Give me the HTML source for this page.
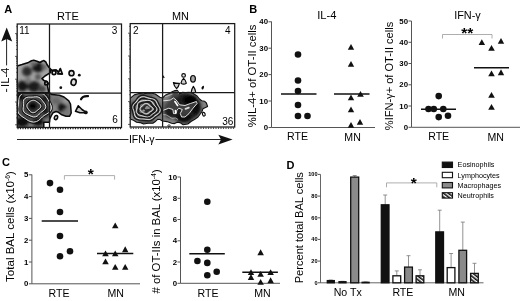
<!DOCTYPE html>
<html><head><meta charset="utf-8"><title>Figure</title>
<style>
html,body{margin:0;padding:0;background:#fff;}
body{width:520px;height:301px;overflow:hidden;font-family:"Liberation Sans",sans-serif;}
svg{display:block;}
text{font-family:"Liberation Sans",sans-serif;fill:#000;}
.ax{stroke:#555;stroke-width:1;fill:none;}
.tk{font-size:7.8px;font-weight:bold;}
.mean{stroke:#111;stroke-width:1.4;}
.br{stroke:#999;stroke-width:0.8;fill:none;}
</style></head><body>
<svg width="520" height="301" viewBox="0 0 520 301" style="opacity:0.999">
<defs>
<filter id="b1" x="-30%" y="-30%" width="160%" height="160%"><feGaussianBlur stdDeviation="1.6"/></filter>
<filter id="b3" x="-30%" y="-30%" width="160%" height="160%"><feGaussianBlur stdDeviation="0.3"/></filter>
<filter id="b2" x="-30%" y="-30%" width="160%" height="160%"><feGaussianBlur stdDeviation="0.5"/></filter>
<pattern id="hatch" width="3" height="3" patternUnits="userSpaceOnUse" patternTransform="rotate(-52)"><rect width="3" height="3" fill="#fff"/><rect width="1.6" height="3" fill="#111"/></pattern>
</defs>
<rect width="520" height="301" fill="#fff"/>

<text x="4.3" y="12.6" font-size="11" text-anchor="start" font-weight="bold">A</text>
<text x="249.3" y="13" font-size="11" text-anchor="start" font-weight="bold">B</text>
<text x="2" y="165.5" font-size="11" text-anchor="start" font-weight="bold">C</text>
<text x="286.5" y="168.5" font-size="11" text-anchor="start" font-weight="bold">D</text>
<g id="PA">
<text x="67.9" y="19.5" font-size="11" text-anchor="middle">RTE</text>
<text x="180.4" y="19.5" font-size="10.9" text-anchor="middle">MN</text>
<clipPath id="cR"><rect x="17.2" y="24" width="104.3" height="103.5"/></clipPath>
<clipPath id="cM"><rect x="130.2" y="23.6" width="104.5" height="103.4"/></clipPath>
<g clip-path="url(#cR)">
<clipPath id="cUL"><path d="M17.2,66 L22,64.6 L28.5,62.4 L31.5,60.8 L33.8,60.3 L37,61.2 L39.9,62.5 L42,61.2 L43.9,60.6 L45.8,62 L47.3,65.1 L49.3,67.8 L51,69.5 L50.5,72.5 L48.8,73.6 L45,76 L42,78.6 L44,80.6 L46.8,81.4 L48.3,83.5 L47.5,86 L48.3,90 L48.8,93 L17.2,93 Z"/></clipPath>
<clipPath id="cLL"><path d="M17.2,93 L49.5,93 L52,94.6 L59.4,95.2 L64,97 L68.8,100.8 L70.5,104 L70.9,108.8 L71.2,113 L69.5,116.3 L66,116.2 L61.8,114.8 L58.5,112.3 L56,111.5 L53,112.8 L51.3,115.6 L49.8,119 L49.5,122.2 L43.8,122.2 L43.8,127.5 L17.2,127.5 Z"/></clipPath>
<path d="M17.2,66 L22,64.6 L28.5,62.4 L31.5,60.8 L33.8,60.3 L37,61.2 L39.9,62.5 L42,61.2 L43.9,60.6 L45.8,62 L47.3,65.1 L49.3,67.8 L51,69.5 L50.5,72.5 L48.8,73.6 L45,76 L42,78.6 L44,80.6 L46.8,81.4 L48.3,83.5 L47.5,86 L48.3,90 L48.8,93 L17.2,93 Z" fill="#a4a4a4"/>
<g clip-path="url(#cUL)" filter="url(#b1)">
<ellipse cx="38" cy="67.5" rx="6" ry="5" fill="#161616"/>
<ellipse cx="27" cy="71.5" rx="5" ry="5" fill="#2a2a2a"/>
<ellipse cx="22.5" cy="86" rx="5.5" ry="5.5" fill="#141414"/>
<ellipse cx="34" cy="86.5" rx="6.5" ry="5.5" fill="#1c1c1c"/>
<ellipse cx="42" cy="89" rx="4" ry="3.5" fill="#444"/>
<ellipse cx="33" cy="63.5" rx="3.5" ry="2" fill="#666"/>
<ellipse cx="44.5" cy="67" rx="2.5" ry="3" fill="#666"/>
<ellipse cx="38" cy="77" rx="3" ry="3" fill="#555"/>
<ellipse cx="28" cy="80" rx="3" ry="3" fill="#777"/>
</g>
<path d="M17.2,66 L22,64.6 L28.5,62.4 L31.5,60.8 L33.8,60.3 L37,61.2 L39.9,62.5 L42,61.2 L43.9,60.6 L45.8,62 L47.3,65.1 L49.3,67.8 L51,69.5 L50.5,72.5 L48.8,73.6 L45,76 L42,78.6 L44,80.6 L46.8,81.4 L48.3,83.5 L47.5,86 L48.3,90 L48.8,93 L17.2,93 Z" fill="none" stroke="#0a0a0a" stroke-width="1.6" stroke-linejoin="round"/>
<path d="M17.2,93 L49.5,93 L52,94.6 L59.4,95.2 L64,97 L68.8,100.8 L70.5,104 L70.9,108.8 L71.2,113 L69.5,116.3 L66,116.2 L61.8,114.8 L58.5,112.3 L56,111.5 L53,112.8 L51.3,115.6 L49.8,119 L49.5,122.2 L43.8,122.2 L43.8,127.5 L17.2,127.5 Z" fill="#7c7c7c"/>
<g clip-path="url(#cLL)" filter="url(#b1)">
<ellipse cx="33" cy="108" rx="17" ry="15" fill="#4c4c4c"/>
<ellipse cx="33" cy="106" rx="9" ry="8" fill="#3a3a3a"/>
<ellipse cx="32.8" cy="106" rx="4.4" ry="3.8" fill="#000"/>
<ellipse cx="32.8" cy="106" rx="3" ry="2.6" fill="#000"/>
<ellipse cx="22" cy="122" rx="7" ry="5" fill="#0c0c0c"/>
<ellipse cx="38" cy="122" rx="6" ry="4" fill="#111"/>
<ellipse cx="20" cy="97" rx="5" ry="4" fill="#111"/>
<ellipse cx="46" cy="98" rx="4" ry="5" fill="#1a1a1a"/>
<ellipse cx="46" cy="112" rx="3" ry="6" fill="#1a1a1a"/>
<ellipse cx="62" cy="107.5" rx="4.5" ry="4.5" fill="#161616"/>
<ellipse cx="56" cy="101" rx="4" ry="3" fill="#666"/>
<ellipse cx="66" cy="112" rx="3" ry="3" fill="#777"/>
<ellipse cx="66" cy="101" rx="3" ry="3" fill="#999"/>
<ellipse cx="54" cy="108" rx="3" ry="3" fill="#888"/>
</g>
<g clip-path="url(#cLL)" fill="none" filter="url(#b3)">
<path d="M52.2,106.3 L52.2,108.9 L51.2,111.4 L49.2,113.3 L46.9,114.8 L44.7,116.1 L42.8,117.6 L41.1,119.3 L39.1,121.2 L36.5,122.6 L33.6,123.1 L30.7,122.6 L28.0,121.4 L25.7,120.0 L23.6,118.5 L21.4,117.1 L19.3,115.5 L17.7,113.5 L16.8,111.1 L16.8,108.7 L17.2,106.3 L17.7,104.1 L17.9,101.8 L18.0,99.3 L18.5,96.6 L19.9,94.2 L22.3,92.5 L25.2,91.7 L28.2,91.7 L31.0,92.0 L33.6,92.1 L36.2,92.0 L38.9,92.0 L41.6,92.3 L44.2,93.4 L46.2,95.2 L47.6,97.3 L48.9,99.4 L50.1,101.5 L51.3,103.8Z" stroke="#0c0c0c" stroke-width="1.1"/>
<path d="M51.3,106.3 L51.3,108.8 L50.3,111.1 L48.4,112.9 L46.2,114.3 L44.1,115.5 L42.4,116.9 L40.7,118.6 L38.8,120.3 L36.4,121.6 L33.6,122.1 L30.8,121.7 L28.3,120.6 L26.1,119.2 L24.1,117.8 L22.0,116.5 L20.1,114.9 L18.5,113.1 L17.7,110.8 L17.6,108.5 L18.1,106.3 L18.5,104.2 L18.7,102.0 L18.8,99.7 L19.3,97.2 L20.6,94.9 L22.8,93.3 L25.6,92.5 L28.5,92.5 L31.2,92.8 L33.6,92.9 L36.0,92.8 L38.6,92.8 L41.2,93.1 L43.6,94.2 L45.5,95.8 L46.9,97.8 L48.1,99.8 L49.3,101.8 L50.4,104.0Z" stroke="#fafafa" stroke-width="0.9"/>
<path d="M46.8,106.3 L46.5,108.1 L45.5,109.8 L44.1,111.1 L42.5,112.1 L41.2,113.2 L40.1,114.4 L38.9,115.7 L37.5,117.0 L35.6,117.8 L33.6,117.9 L31.6,117.5 L29.8,116.7 L28.2,115.9 L26.5,115.0 L24.9,114.1 L23.5,112.9 L22.6,111.4 L22.2,109.6 L22.3,107.9 L22.6,106.3 L22.6,104.7 L22.5,103.1 L22.5,101.2 L23.0,99.3 L24.1,97.8 L25.9,96.7 L28.0,96.3 L30.0,96.3 L31.8,96.3 L33.6,96.1 L35.4,95.9 L37.3,96.0 L39.2,96.4 L40.8,97.4 L42.0,98.7 L43.1,100.1 L44.1,101.5 L45.2,102.9 L46.2,104.5Z" stroke="#0c0c0c" stroke-width="1.1"/>
<path d="M45.8,106.3 L45.6,108.0 L44.6,109.5 L43.3,110.7 L41.9,111.7 L40.7,112.6 L39.6,113.7 L38.5,115.0 L37.2,116.1 L35.5,116.8 L33.6,117.0 L31.8,116.5 L30.1,115.8 L28.6,115.1 L27.1,114.3 L25.6,113.5 L24.3,112.4 L23.4,110.9 L23.1,109.4 L23.2,107.8 L23.4,106.3 L23.4,104.9 L23.3,103.3 L23.3,101.6 L23.7,99.9 L24.8,98.5 L26.5,97.5 L28.4,97.1 L30.2,97.1 L32.0,97.1 L33.6,97.0 L35.3,96.8 L37.1,96.8 L38.8,97.3 L40.2,98.1 L41.4,99.3 L42.4,100.6 L43.3,101.9 L44.4,103.2 L45.3,104.6Z" stroke="#fafafa" stroke-width="0.9"/>
<path d="M41.8,106.3 L41.6,107.4 L40.9,108.5 L40.1,109.3 L39.2,110.0 L38.3,110.6 L37.6,111.2 L36.8,112.0 L35.9,112.7 L34.8,113.4 L33.6,113.7 L32.3,113.7 L31.1,113.3 L30.1,112.6 L29.2,111.7 L28.6,110.9 L28.0,110.0 L27.3,109.2 L26.7,108.3 L26.2,107.4 L26.0,106.3 L26.0,105.2 L26.3,104.1 L26.8,103.2 L27.5,102.3 L28.3,101.5 L29.2,100.8 L30.2,100.2 L31.2,99.7 L32.4,99.4 L33.6,99.3 L34.8,99.5 L35.9,100.0 L36.8,100.6 L37.7,101.2 L38.5,101.8 L39.4,102.5 L40.3,103.2 L41.1,104.1 L41.7,105.1Z" stroke="#0c0c0c" stroke-width="1.1"/>
<path d="M40.9,106.3 L40.6,107.3 L40.1,108.2 L39.3,108.9 L38.5,109.5 L37.8,110.0 L37.1,110.6 L36.4,111.2 L35.6,111.9 L34.7,112.4 L33.6,112.7 L32.5,112.7 L31.4,112.3 L30.5,111.7 L29.8,111.0 L29.2,110.3 L28.6,109.5 L28.1,108.8 L27.6,108.1 L27.1,107.2 L26.9,106.3 L26.9,105.3 L27.1,104.4 L27.6,103.6 L28.3,102.8 L29.0,102.2 L29.7,101.6 L30.6,101.0 L31.5,100.6 L32.5,100.3 L33.6,100.2 L34.6,100.4 L35.6,100.8 L36.4,101.3 L37.2,101.9 L38.0,102.4 L38.7,103.0 L39.5,103.6 L40.2,104.4 L40.7,105.3Z" stroke="#fafafa" stroke-width="0.9"/>
</g>
<path d="M17.2,93 L49.5,93 L52,94.6 L59.4,95.2 L64,97 L68.8,100.8 L70.5,104 L70.9,108.8 L71.2,113 L69.5,116.3 L66,116.2 L61.8,114.8 L58.5,112.3 L56,111.5 L53,112.8 L51.3,115.6 L49.8,119 L49.5,122.2 L43.8,122.2 L43.8,127.5 L17.2,127.5 Z" fill="none" stroke="#0a0a0a" stroke-width="1.5" stroke-linejoin="round"/>
<g fill="#fff" stroke="#0a0a0a" stroke-width="1.8">
<ellipse cx="54" cy="72.6" rx="1.9" ry="2.1"/>
<path d="M57.8,73.8 L60.3,68.6 L62.3,74 Z" stroke-linejoin="round"/>
<ellipse cx="46.2" cy="83.2" rx="1.4" ry="1.7"/>
</g>
<path d="M50,69.5 L52.5,70.3 L56,70 L58.5,72" fill="none" stroke="#0a0a0a" stroke-width="1.8"/>
<g fill="#ddd" stroke="#0a0a0a" stroke-width="1.6">
<ellipse cx="71.5" cy="73.2" rx="2.5" ry="2.6"/>
<ellipse cx="73.6" cy="82.2" rx="2.5" ry="3.2" transform="rotate(15 73.6 82.2)"/>
<ellipse cx="56" cy="117.6" rx="1.5" ry="2.1" transform="rotate(20 56 117.6)" fill="#fff"/>
<path d="M75.5,111.3 L78.2,105.8 L82,109.5 L86.5,112.6 L80,112.8 Z" fill="#c8c8c8" stroke-linejoin="round"/>
</g>
<g fill="#111">
<circle cx="79.3" cy="75.2" r="1.4"/><circle cx="60.8" cy="87.7" r="1.4"/><circle cx="85.8" cy="112.4" r="1.9"/>
</g>
<path d="M81,99.3 C82,97 85,96 88,96.2" fill="none" stroke="#0a0a0a" stroke-width="2.2" stroke-linecap="round"/>
</g>
<g clip-path="url(#cM)">
<clipPath id="cML"><path d="M130.2,98.4 L134.3,94.9 L139,93.5 L143.5,93.9 L148.3,93 L152,93.2 L155.2,94 L159.9,97.2 L162.5,98 L165.7,94.9 L169,93.5 L172.7,91.4 L175,90.6 L177.3,90.2 L179.7,93.7 L182.5,92.3 L185.5,92.6 L189,92.2 L192.4,93 L197.1,96 L199.5,99 L201.7,100.7 L204.5,101.2 L206.4,103 L207.6,106.5 L205.5,107.5 L202.9,108.8 L202,111.5 L200.6,113.5 L198,117 L194.8,119.3 L191,121.5 L187.8,124 L183.1,124.7 L180,122.6 L177.3,122.3 L174.5,123.6 L171.5,123.3 L166.9,121.6 L162.5,121 L160,119.5 L157.6,119.3 L155,121.8 L152.9,123.3 L148,123.2 L143.6,124 L140,122.6 L136.6,122.3 L133.5,120.3 L130.8,119.3 L130.2,118 Z"/></clipPath>
<path d="M130.2,98.4 L134.3,94.9 L139,93.5 L143.5,93.9 L148.3,93 L152,93.2 L155.2,94 L159.9,97.2 L162.5,98 L165.7,94.9 L169,93.5 L172.7,91.4 L175,90.6 L177.3,90.2 L179.7,93.7 L182.5,92.3 L185.5,92.6 L189,92.2 L192.4,93 L197.1,96 L199.5,99 L201.7,100.7 L204.5,101.2 L206.4,103 L207.6,106.5 L205.5,107.5 L202.9,108.8 L202,111.5 L200.6,113.5 L198,117 L194.8,119.3 L191,121.5 L187.8,124 L183.1,124.7 L180,122.6 L177.3,122.3 L174.5,123.6 L171.5,123.3 L166.9,121.6 L162.5,121 L160,119.5 L157.6,119.3 L155,121.8 L152.9,123.3 L148,123.2 L143.6,124 L140,122.6 L136.6,122.3 L133.5,120.3 L130.8,119.3 L130.2,118 Z" fill="#808080"/>
<g clip-path="url(#cML)" filter="url(#b1)">
<ellipse cx="184" cy="107" rx="17" ry="14" fill="#1e1e1e"/>
<ellipse cx="190" cy="100" rx="7" ry="5" fill="#000"/>
<ellipse cx="184" cy="118" rx="8" ry="5" fill="#0a0a0a"/>
<ellipse cx="170" cy="110" rx="6" ry="8" fill="#1a1a1a"/>
<ellipse cx="196" cy="108" rx="5" ry="7" fill="#111"/>
<ellipse cx="175" cy="95" rx="4" ry="3" fill="#444"/>
<ellipse cx="146" cy="108.5" rx="15" ry="13" fill="#7a7a7a"/>
<ellipse cx="133" cy="108" rx="3" ry="7" fill="#444"/>
<ellipse cx="158" cy="108" rx="4" ry="6" fill="#555"/>
<ellipse cx="146" cy="96" rx="8" ry="2.5" fill="#555"/>
<ellipse cx="146" cy="121.5" rx="9" ry="2.5" fill="#4a4a4a"/>
</g>
<g clip-path="url(#cML)" fill="none" filter="url(#b3)">
<path d="M161.3,108.5 L161.7,110.6 L161.0,112.7 L159.4,114.4 L157.5,115.7 L155.7,116.9 L154.2,118.3 L152.6,119.6 L150.6,120.6 L148.3,120.9 L146.0,120.6 L143.8,120.3 L141.6,120.2 L139.2,120.1 L136.7,119.5 L134.8,118.2 L133.6,116.3 L133.2,114.1 L132.8,112.2 L132.3,110.4 L131.7,108.5 L131.5,106.5 L132.1,104.6 L133.3,102.9 L134.8,101.5 L136.1,99.9 L137.3,98.2 L138.9,96.5 L141.1,95.4 L143.6,95.3 L146.0,95.8 L148.2,96.6 L150.3,97.2 L152.4,97.6 L154.6,98.3 L156.4,99.5 L157.6,101.2 L158.4,103.0 L159.2,104.8 L160.3,106.5Z" stroke="#1a1a1a" stroke-width="1.3"/>
<path d="M159.8,108.5 L160.2,110.4 L159.5,112.2 L158.1,113.7 L156.4,114.9 L154.8,116.0 L153.4,117.2 L151.9,118.4 L150.1,119.3 L148.1,119.5 L146.0,119.3 L144.0,119.0 L142.0,118.9 L139.8,118.8 L137.6,118.3 L135.9,117.1 L134.8,115.4 L134.4,113.5 L134.1,111.8 L133.6,110.2 L133.0,108.5 L132.9,106.7 L133.4,105.0 L134.5,103.5 L135.9,102.2 L137.0,100.9 L138.2,99.4 L139.6,97.9 L141.6,96.9 L143.8,96.7 L146.0,97.2 L148.0,97.9 L149.9,98.4 L151.8,98.8 L153.8,99.4 L155.4,100.5 L156.5,102.0 L157.2,103.6 L158.0,105.2 L158.9,106.8Z" stroke="#e6e6e6" stroke-width="0.9"/>
<path d="M158.3,108.5 L158.6,110.2 L157.9,111.7 L156.5,113.0 L155.0,114.0 L153.7,114.9 L152.6,116.1 L151.3,117.2 L149.7,117.9 L147.8,118.0 L146.0,117.7 L144.3,117.5 L142.5,117.5 L140.5,117.5 L138.5,117.1 L137.0,116.0 L136.3,114.4 L135.9,112.8 L135.6,111.3 L135.1,109.9 L134.5,108.5 L134.3,107.0 L134.9,105.5 L136.1,104.3 L137.2,103.2 L138.2,101.9 L139.1,100.5 L140.3,99.2 L142.1,98.4 L144.1,98.3 L146.0,98.9 L147.7,99.5 L149.4,99.8 L151.2,100.0 L152.9,100.5 L154.3,101.5 L155.2,102.9 L155.7,104.4 L156.4,105.7 L157.4,107.0Z" stroke="#161616" stroke-width="1.5"/>
<path d="M156.8,108.5 L156.9,109.9 L156.2,111.2 L155.1,112.3 L153.8,113.1 L152.6,113.9 L151.5,114.7 L150.4,115.6 L149.1,116.4 L147.6,116.8 L146.0,116.8 L144.5,116.5 L143.0,116.0 L141.6,115.6 L140.1,115.1 L138.6,114.6 L137.3,113.7 L136.4,112.5 L136.2,111.1 L136.4,109.7 L136.8,108.5 L137.1,107.3 L137.2,106.2 L137.3,104.9 L137.6,103.5 L138.4,102.3 L139.8,101.5 L141.3,101.0 L142.9,100.8 L144.5,100.6 L146.0,100.4 L147.6,100.3 L149.2,100.4 L150.7,101.0 L151.9,101.9 L152.7,103.0 L153.5,104.1 L154.2,105.1 L155.2,106.1 L156.1,107.2Z" stroke="#f0f0f0" stroke-width="0.9"/>
<path d="M155.1,108.7 L155.0,109.8 L154.3,110.9 L153.3,111.7 L152.3,112.3 L151.4,113.0 L150.6,113.7 L149.8,114.6 L148.8,115.2 L147.5,115.5 L146.2,115.3 L145.0,115.0 L143.9,114.6 L142.7,114.3 L141.5,114.1 L140.1,113.7 L139.0,113.0 L138.4,112.0 L138.4,110.8 L138.7,109.7 L139.1,108.7 L139.2,107.8 L139.1,106.8 L139.0,105.7 L139.3,104.6 L140.1,103.7 L141.2,103.1 L142.6,102.8 L143.8,102.6 L145.0,102.4 L146.2,102.1 L147.5,101.9 L148.8,102.0 L150.0,102.6 L150.9,103.4 L151.5,104.4 L152.0,105.2 L152.7,106.0 L153.6,106.7 L154.5,107.6Z" stroke="#1a1a1a" stroke-width="2.0"/>
<path d="M153.1,108.8 L153.0,109.6 L152.4,110.4 L151.7,111.0 L150.8,111.4 L150.1,111.8 L149.4,112.3 L148.8,112.8 L148.1,113.3 L147.3,113.7 L146.3,114.0 L145.3,113.9 L144.3,113.6 L143.6,113.1 L142.9,112.5 L142.3,112.0 L141.7,111.5 L141.1,110.9 L140.5,110.3 L140.0,109.6 L139.9,108.8 L140.1,108.0 L140.6,107.3 L141.2,106.7 L141.9,106.2 L142.4,105.7 L143.0,105.1 L143.6,104.5 L144.3,103.9 L145.3,103.5 L146.3,103.4 L147.3,103.6 L148.2,104.1 L148.9,104.8 L149.4,105.4 L150.0,105.9 L150.6,106.3 L151.4,106.7 L152.2,107.3 L152.8,108.0Z" stroke="#ececec" stroke-width="0.9"/>
</g>
<g clip-path="url(#cML)" filter="url(#b2)">
<path d="M151.8,108.8 L151.7,109.5 L151.2,110.0 L150.6,110.5 L149.9,110.8 L149.3,111.1 L148.8,111.4 L148.3,111.8 L147.8,112.3 L147.1,112.7 L146.3,112.9 L145.5,112.8 L144.7,112.5 L144.1,112.1 L143.6,111.6 L143.2,111.2 L142.7,110.8 L142.1,110.4 L141.6,110.0 L141.2,109.4 L141.1,108.8 L141.3,108.2 L141.7,107.6 L142.3,107.2 L142.8,106.8 L143.3,106.5 L143.7,106.0 L144.1,105.5 L144.7,105.0 L145.5,104.7 L146.3,104.6 L147.1,104.8 L147.8,105.2 L148.4,105.7 L148.8,106.2 L149.2,106.6 L149.7,106.9 L150.3,107.2 L151.0,107.6 L151.6,108.2Z" fill="#2a2a2a"/>
<path d="M150.0,107.8 L150.1,108.1 L150.0,108.4 L149.8,108.6 L149.5,108.8 L149.1,109.0 L148.6,109.0 L148.2,109.0 L147.9,109.1 L147.6,109.1 L147.3,109.2 L147.0,109.2 L146.6,109.3 L146.1,109.3 L145.7,109.3 L145.3,109.1 L145.0,108.9 L144.9,108.6 L144.9,108.3 L145.0,108.0 L145.2,107.8 L145.3,107.6 L145.4,107.4 L145.5,107.2 L145.6,107.0 L145.7,106.7 L145.8,106.4 L146.1,106.2 L146.4,106.0 L146.9,105.9 L147.3,106.0 L147.7,106.1 L148.0,106.3 L148.3,106.5 L148.5,106.7 L148.7,106.9 L148.9,107.0 L149.2,107.2 L149.4,107.3 L149.7,107.5Z" fill="#8a8a8a"/>
<path d="M145.0,110.6 L145.0,110.8 L145.0,111.0 L144.9,111.2 L144.7,111.3 L144.5,111.4 L144.3,111.5 L144.1,111.5 L143.9,111.5 L143.8,111.5 L143.6,111.6 L143.4,111.6 L143.2,111.6 L143.0,111.6 L142.8,111.6 L142.6,111.5 L142.4,111.3 L142.3,111.1 L142.3,111.0 L142.3,110.8 L142.4,110.6 L142.5,110.4 L142.5,110.3 L142.6,110.2 L142.6,110.0 L142.7,109.8 L142.8,109.7 L143.0,109.5 L143.1,109.4 L143.4,109.4 L143.6,109.4 L143.8,109.4 L144.0,109.6 L144.2,109.7 L144.3,109.8 L144.4,109.9 L144.5,110.0 L144.6,110.1 L144.8,110.3 L144.9,110.4Z" fill="#999"/>
</g>
<g clip-path="url(#cML)" fill="none" stroke="#f2f2f2" stroke-width="0.9" stroke-linejoin="round" filter="url(#b3)">
<path d="M162.5,100.8 L166,100.6 L170.2,100 L173.5,98 L176.2,100 L179.6,104.8 L185,105.5 L190.4,103.5 L196.4,101.5 L197.1,103.5 L193,108.2 L189,113.6 L185,117 L181.6,117 L180.3,113.6 L182.3,109.5 L178.9,108.2 L176.9,110.2 L176.2,113.6 L173.5,113.6 L172.9,109.5 L168.8,108.2 L163.5,110.2 L162.5,110.4" fill="#5c5c5c" fill-opacity="0.55"/>
<path d="M162.5,96.8 L166,96.5 L169.5,95.2 L172.5,94 M162.5,114.5 L166,114.8 L169,116.5 L172,118.3 L175.5,118 L178,119.5" stroke="#cfcfcf" stroke-width="0.7"/>
<path d="M174.9,101.5 L177.6,105.5" stroke="#fff" stroke-width="1.6" stroke-linecap="round"/>
<path d="M175.4,110.4 L175.6,112.9" stroke="#fff" stroke-width="1.5" stroke-linecap="round"/>
<path d="M185.5,108.8 L188.8,107.6" stroke="#d8d8d8" stroke-width="1.8" stroke-linecap="round"/>
<path d="M178,91.5 L178.6,93.5" stroke="#fff" stroke-width="1.0"/>
</g>
<path d="M130.2,98.4 L134.3,94.9 L139,93.5 L143.5,93.9 L148.3,93 L152,93.2 L155.2,94 L159.9,97.2 L162.5,98 L165.7,94.9 L169,93.5 L172.7,91.4 L175,90.6 L177.3,90.2 L179.7,93.7 L182.5,92.3 L185.5,92.6 L189,92.2 L192.4,93 L197.1,96 L199.5,99 L201.7,100.7 L204.5,101.2 L206.4,103 L207.6,106.5 L205.5,107.5 L202.9,108.8 L202,111.5 L200.6,113.5 L198,117 L194.8,119.3 L191,121.5 L187.8,124 L183.1,124.7 L180,122.6 L177.3,122.3 L174.5,123.6 L171.5,123.3 L166.9,121.6 L162.5,121 L160,119.5 L157.6,119.3 L155,121.8 L152.9,123.3 L148,123.2 L143.6,124 L140,122.6 L136.6,122.3 L133.5,120.3 L130.8,119.3 L130.2,118 Z" fill="none" stroke="#111" stroke-width="1.1" stroke-linejoin="round"/>
<g fill="#d8d8d8" stroke="#0a0a0a" stroke-width="1.2">
<circle cx="183.6" cy="75.4" r="1.8" fill="#eee"/>
<path d="M181,83.2 Q181.6,80 183.6,78.4 Q185.6,80 186.3,83.2 Q183.6,85.2 181,83.2Z" stroke-linejoin="round" fill="#ccc"/>
<path d="M173.4,82.6 Q176,83.6 179.4,83.4 Q178.8,86.5 176.6,88.6 Q174,86 173.4,82.6 Z" stroke-linejoin="round" fill="#ccc"/>
<ellipse cx="193" cy="78.8" rx="2.4" ry="3.3" fill="#a8a8a8"/>
<path d="M191.2,92.3 Q191.6,89 193.4,86.4 Q195.3,89 195.7,92.3" fill="#ccc" stroke-linejoin="round"/>
<ellipse cx="203.8" cy="114.2" rx="1.3" ry="1.9" transform="rotate(-20 203.8 114.2)" fill="#fff"/>
<ellipse cx="169" cy="125.8" rx="1.2" ry="1" fill="#fff" stroke-width="0.8"/>
</g>
<ellipse cx="202.8" cy="87.6" rx="1.1" ry="2" transform="rotate(20 202.8 87.6)" fill="#0a0a0a"/>
<path d="M162.6,75.5 L164.2,77.8" stroke="#111" stroke-width="1.3"/>
</g>
<g fill="none" stroke="#1a1a1a" stroke-width="1.25">
<rect x="17.2" y="24" width="104.3" height="103.5"/>
<path d="M49.5,24 V127.5 M17.2,93 H121.5"/>
<rect x="130.2" y="23.6" width="104.5" height="103.4"/>
<path d="M162.6,23.6 V127 M130.2,92.5 H234.7"/>
</g>
<g stroke="#222" stroke-width="1.2" fill="none">
<path d="M17.4,128.6 H121.3" stroke-dasharray="1.2 1.3"/>
<path d="M130.4,128.1 H234.5" stroke-dasharray="1.2 1.3"/>
<path d="M15.0,33.6 H17.2 M16.1,26.7 H17.2 M15.0,56.4 H17.2 M16.1,49.5 H17.2 M16.1,45.5 H17.2 M16.1,42.7 H17.2 M16.1,40.5 H17.2 M16.1,38.7 H17.2 M16.1,37.1 H17.2 M16.1,35.8 H17.2 M16.1,34.6 H17.2 M15.0,79.2 H17.2 M16.1,72.3 H17.2 M16.1,68.3 H17.2 M16.1,65.5 H17.2 M16.1,63.3 H17.2 M16.1,61.5 H17.2 M16.1,59.9 H17.2 M16.1,58.6 H17.2 M16.1,57.4 H17.2 M15.0,102.0 H17.2 M16.1,95.1 H17.2 M16.1,91.1 H17.2 M16.1,88.3 H17.2 M16.1,86.1 H17.2 M16.1,84.3 H17.2 M16.1,82.7 H17.2 M16.1,81.4 H17.2 M16.1,80.2 H17.2 M15.0,124.8 H17.2 M16.1,117.9 H17.2 M16.1,113.9 H17.2 M16.1,111.1 H17.2 M16.1,108.9 H17.2 M16.1,107.1 H17.2 M16.1,105.5 H17.2 M16.1,104.2 H17.2 M16.1,103.0 H17.2 " stroke-width="0.7"/>
<path d="M128.0,33.2 H130.2 M129.1,26.3 H130.2 M128.0,56.0 H130.2 M129.1,49.1 H130.2 M129.1,45.1 H130.2 M129.1,42.3 H130.2 M129.1,40.1 H130.2 M129.1,38.3 H130.2 M129.1,36.7 H130.2 M129.1,35.4 H130.2 M129.1,34.2 H130.2 M128.0,78.8 H130.2 M129.1,71.9 H130.2 M129.1,67.9 H130.2 M129.1,65.1 H130.2 M129.1,62.9 H130.2 M129.1,61.1 H130.2 M129.1,59.5 H130.2 M129.1,58.2 H130.2 M129.1,57.0 H130.2 M128.0,101.6 H130.2 M129.1,94.7 H130.2 M129.1,90.7 H130.2 M129.1,87.9 H130.2 M129.1,85.7 H130.2 M129.1,83.9 H130.2 M129.1,82.3 H130.2 M129.1,81.0 H130.2 M129.1,79.8 H130.2 M128.0,124.4 H130.2 M129.1,117.5 H130.2 M129.1,113.5 H130.2 M129.1,110.7 H130.2 M129.1,108.5 H130.2 M129.1,106.7 H130.2 M129.1,105.1 H130.2 M129.1,103.8 H130.2 M129.1,102.6 H130.2 " stroke-width="0.7"/>
</g>
<g font-size="10">
<text x="19.3" y="34">11</text><text x="117.4" y="34" text-anchor="end">3</text><text x="117.7" y="123.2" text-anchor="end">6</text>
<text x="133" y="33.8" >2</text><text x="230.5" y="33.8" text-anchor="end">4</text><text x="233.3" y="124.8" text-anchor="end">36</text>
</g>
<path d="M6.7,27.4 L12.2,41.6 L6.7,38.9 L1.2,41.6 Z" fill="#111"/>
<path d="M6.6,39 V65.4 M6.6,88.8 V92" stroke="#222" stroke-width="1"/>
<text transform="translate(9.4,77.3) rotate(-90)" font-size="11.2" text-anchor="middle">IL-4</text>
<path d="M17,139.5 H128.5 M155.5,139.5 H221" stroke="#222" stroke-width="1"/>
<path d="M232.6,139.6 L218.3,134.7 L221,139.6 L218.3,144.6 Z" fill="#111"/>
<text x="141.8" y="143" font-size="10.5" text-anchor="middle">IFN-γ</text>
</g>
<g id="B1">
<path class="ax" d="M271.5,21.5 V127.5 H375"/><line class="ax" x1="268.5" y1="21.8" x2="271.5" y2="21.8"/><text class="tk" x="268.0" y="24.400000000000002" text-anchor="end">40</text><line class="ax" x1="268.5" y1="48.2" x2="271.5" y2="48.2"/><text class="tk" x="268.0" y="50.800000000000004" text-anchor="end">30</text><line class="ax" x1="268.5" y1="74.6" x2="271.5" y2="74.6"/><text class="tk" x="268.0" y="77.19999999999999" text-anchor="end">20</text><line class="ax" x1="268.5" y1="101" x2="271.5" y2="101"/><text class="tk" x="268.0" y="103.6" text-anchor="end">10</text><line class="ax" x1="268.5" y1="127.5" x2="271.5" y2="127.5"/><text class="tk" x="268.0" y="130.1" text-anchor="end">0</text>
<text x="326.8" y="18.8" font-size="11.2" text-anchor="middle" >IL-4</text>
<text transform="translate(256.2,75.9) rotate(-90)" font-size="11.3" text-anchor="middle" >%IL-4+ of OT-II cells</text>
<g fill="#111">
<circle cx="298" cy="54.5" r="3.3"/>
<circle cx="298" cy="80.5" r="3.3"/>
<circle cx="298" cy="91" r="3.3"/>
<circle cx="298" cy="105" r="3.3"/>
<circle cx="298" cy="116" r="3.3"/>
<circle cx="307.5" cy="116" r="3.3"/>
<path d="M347.8,49.8 L354.2,49.8 L351,43.9Z"/>
<path d="M347.8,66.8 L354.2,66.8 L351,60.9Z"/>
<path d="M357.2,96.8 L363.8,96.8 L360.5,90.9Z"/>
<path d="M347.8,100.3 L354.2,100.3 L351,94.4Z"/>
<path d="M347.8,112.3 L354.2,112.3 L351,106.4Z"/>
<path d="M356.8,124.8 L363.2,124.8 L360,118.9Z"/>
<path d="M347.8,127.8 L354.2,127.8 L351,121.9Z"/>
</g>
<line x1="281" y1="94" x2="316.5" y2="94" class="mean"/>
<line x1="334" y1="94" x2="369.5" y2="94" class="mean"/>
<text x="297.5" y="140.2" font-size="10.6" text-anchor="middle" >RTE</text>
<text x="352.6" y="140.6" font-size="10.6" text-anchor="middle" >MN</text>
</g>
<g id="B2">
<path class="ax" d="M411.5,21 V127.3 H520"/><line class="ax" x1="408.5" y1="21" x2="411.5" y2="21"/><text class="tk" x="408.0" y="23.6" text-anchor="end">50</text><line class="ax" x1="408.5" y1="42.3" x2="411.5" y2="42.3"/><text class="tk" x="408.0" y="44.9" text-anchor="end">40</text><line class="ax" x1="408.5" y1="63.5" x2="411.5" y2="63.5"/><text class="tk" x="408.0" y="66.1" text-anchor="end">30</text><line class="ax" x1="408.5" y1="84.8" x2="411.5" y2="84.8"/><text class="tk" x="408.0" y="87.39999999999999" text-anchor="end">20</text><line class="ax" x1="408.5" y1="106" x2="411.5" y2="106"/><text class="tk" x="408.0" y="108.6" text-anchor="end">10</text><line class="ax" x1="408.5" y1="127.3" x2="411.5" y2="127.3"/><text class="tk" x="408.0" y="129.9" text-anchor="end">0</text>
<text x="467.5" y="18.8" font-size="10.9" text-anchor="middle" >IFN-γ</text>
<text transform="translate(393.2,76) rotate(-90)" font-size="11.06" text-anchor="middle" >%IFN-γ+ of OT-II cells</text>
<g fill="#111">
<circle cx="438.7" cy="96.1" r="3.3"/>
<circle cx="428.5" cy="109" r="3.3"/>
<circle cx="433.8" cy="109" r="3.3"/>
<circle cx="443.3" cy="109" r="3.3"/>
<circle cx="438.7" cy="117.1" r="3.3"/>
<circle cx="448" cy="115.8" r="3.3"/>
<path d="M478.6,45.1 L485.1,45.1 L481.8,39.2Z"/>
<path d="M497.8,43.8 L504.2,43.8 L501,37.9Z"/>
<path d="M488.2,50.8 L494.8,50.8 L491.5,44.9Z"/>
<path d="M488.2,76.3 L494.8,76.3 L491.5,70.4Z"/>
<path d="M497.8,75.2 L504.2,75.2 L501,69.3Z"/>
<path d="M488.2,97.8 L494.8,97.8 L491.5,91.9Z"/>
<path d="M488.2,109.8 L494.8,109.8 L491.5,103.9Z"/>
</g>
<line x1="421" y1="109.3" x2="456" y2="109.3" class="mean"/>
<line x1="474" y1="67.8" x2="509" y2="67.8" class="mean"/>
<path class="br" d="M442.5,38.5 V34.5 H492 V38.5"/>
<text x="467.3" y="38" font-size="15.5" text-anchor="middle" font-weight="bold">**</text>
<text x="438.7" y="140.2" font-size="10.6" text-anchor="middle" >RTE</text>
<text x="495.8" y="140.6" font-size="10.6" text-anchor="middle" >MN</text>
</g>
<g id="C1">
<path class="ax" d="M31.9,174.5 V283.8 H140"/><line class="ax" x1="28.9" y1="174.8" x2="31.9" y2="174.8"/><text class="tk" x="28.4" y="177.4" text-anchor="end">5</text><line class="ax" x1="28.9" y1="196.6" x2="31.9" y2="196.6"/><text class="tk" x="28.4" y="199.2" text-anchor="end">4</text><line class="ax" x1="28.9" y1="218.4" x2="31.9" y2="218.4"/><text class="tk" x="28.4" y="221.0" text-anchor="end">3</text><line class="ax" x1="28.9" y1="240.2" x2="31.9" y2="240.2"/><text class="tk" x="28.4" y="242.79999999999998" text-anchor="end">2</text><line class="ax" x1="28.9" y1="262" x2="31.9" y2="262"/><text class="tk" x="28.4" y="264.6" text-anchor="end">1</text><line class="ax" x1="28.9" y1="283.8" x2="31.9" y2="283.8"/><text class="tk" x="28.4" y="286.40000000000003" text-anchor="end">0</text>
<text transform="translate(14.3,226.5) rotate(-90)" font-size="11.55" text-anchor="middle" >Total BAL cells (x10<tspan dy="-4" font-size="6.8">-6</tspan><tspan dy="4">)</tspan></text>
<g fill="#111">
<circle cx="50" cy="183.1" r="3.3"/>
<circle cx="60" cy="189.8" r="3.3"/>
<circle cx="60" cy="212" r="3.3"/>
<circle cx="60" cy="236" r="3.3"/>
<circle cx="70" cy="251.3" r="3.3"/>
<circle cx="60" cy="256.2" r="3.3"/>
<path d="M112.0,228.3 L118.5,228.3 L115.2,222.4Z"/>
<path d="M122.0,252.2 L128.4,252.2 L125.2,246.3Z"/>
<path d="M102.2,256.3 L108.8,256.3 L105.5,250.4Z"/>
<path d="M112.0,256.3 L118.5,256.3 L115.2,250.4Z"/>
<path d="M102.2,264.3 L108.8,264.3 L105.5,258.4Z"/>
<path d="M112.0,269.8 L118.5,269.8 L115.2,263.9Z"/>
<path d="M122.0,269.8 L128.4,269.8 L125.2,263.9Z"/>
</g>
<line x1="41.7" y1="221" x2="78" y2="221" class="mean"/>
<line x1="97" y1="253.5" x2="133.3" y2="253.5" class="mean"/>
<path class="br" d="M64.4,179.6 V175.6 H114.6 V179.6"/>
<text x="90.7" y="179.2" font-size="15.5" text-anchor="middle" font-weight="bold">*</text>
<text x="59" y="297" font-size="10.6" text-anchor="middle" >RTE</text>
<text x="115.8" y="297" font-size="10.6" text-anchor="middle" >MN</text>
</g>
<g id="C2">
<path class="ax" d="M180.5,177 V283.3 H280"/><line class="ax" x1="177.5" y1="177" x2="180.5" y2="177"/><text class="tk" x="177.0" y="179.6" text-anchor="end">10</text><line class="ax" x1="177.5" y1="198.3" x2="180.5" y2="198.3"/><text class="tk" x="177.0" y="200.9" text-anchor="end">8</text><line class="ax" x1="177.5" y1="219.5" x2="180.5" y2="219.5"/><text class="tk" x="177.0" y="222.1" text-anchor="end">6</text><line class="ax" x1="177.5" y1="240.8" x2="180.5" y2="240.8"/><text class="tk" x="177.0" y="243.4" text-anchor="end">4</text><line class="ax" x1="177.5" y1="262" x2="180.5" y2="262"/><text class="tk" x="177.0" y="264.6" text-anchor="end">2</text><line class="ax" x1="177.5" y1="283.3" x2="180.5" y2="283.3"/><text class="tk" x="177.0" y="285.90000000000003" text-anchor="end">0</text>
<text transform="translate(160.2,231.4) rotate(-90)" font-size="11.35" text-anchor="middle" ># of OT-IIs in BAL (x10<tspan dy="-4" font-size="6.8">-4</tspan><tspan dy="4">)</tspan></text>
<g fill="#111">
<circle cx="207.3" cy="201.7" r="3.3"/>
<circle cx="207.3" cy="249.7" r="3.3"/>
<circle cx="197.4" cy="261" r="3.3"/>
<circle cx="207.3" cy="262.9" r="3.3"/>
<circle cx="216.7" cy="271.8" r="3.3"/>
<circle cx="207.3" cy="275.3" r="3.3"/>
<path d="M257.4,255.2 L263.9,255.2 L260.6,249.3Z"/>
<path d="M247.8,275.1 L254.2,275.1 L251,269.2Z"/>
<path d="M257.4,276.8 L263.9,276.8 L260.6,270.9Z"/>
<path d="M267.4,275.1 L273.9,275.1 L270.6,269.2Z"/>
<path d="M247.8,280.0 L254.2,280.0 L251,274.1Z"/>
<path d="M257.4,284.8 L263.9,284.8 L260.6,278.9Z"/>
<path d="M267.4,283.2 L273.9,283.2 L270.6,277.3Z"/>
</g>
<line x1="189.3" y1="253.7" x2="224.8" y2="253.7" class="mean"/>
<line x1="242.3" y1="272.3" x2="277.9" y2="272.3" class="mean"/>
<text x="208" y="297" font-size="10.6" text-anchor="middle" >RTE</text>
<text x="262.5" y="297" font-size="10.6" text-anchor="middle" >MN</text>
</g>
<g id="D">
<path class="ax" d="M320.5,174.4 V282.8 H483.5" style="stroke:#666"/>
<line class="ax" x1="318" y1="282.8" x2="320.5" y2="282.8"/>
<text x="317.5" y="284.8" font-size="5.6" font-weight="bold" text-anchor="end">0</text>
<line class="ax" x1="318" y1="261.1" x2="320.5" y2="261.1"/>
<text x="317.5" y="263.1" font-size="5.6" font-weight="bold" text-anchor="end">20</text>
<line class="ax" x1="318" y1="239.4" x2="320.5" y2="239.4"/>
<text x="317.5" y="241.4" font-size="5.6" font-weight="bold" text-anchor="end">40</text>
<line class="ax" x1="318" y1="217.8" x2="320.5" y2="217.8"/>
<text x="317.5" y="219.8" font-size="5.6" font-weight="bold" text-anchor="end">60</text>
<line class="ax" x1="318" y1="196.1" x2="320.5" y2="196.1"/>
<text x="317.5" y="198.1" font-size="5.6" font-weight="bold" text-anchor="end">80</text>
<line class="ax" x1="318" y1="174.4" x2="320.5" y2="174.4"/>
<text x="317.5" y="176.4" font-size="5.6" font-weight="bold" text-anchor="end">100</text>
<text transform="translate(302.8,227.7) rotate(-90)" font-size="11.1" text-anchor="middle" >Percent total BAL cells</text>
<path d="M330.8,280.6 V280.0 M328.8,280.0 H332.8" stroke="#777" stroke-width="0.8" fill="none"/><rect x="327.3" y="280.6" width="7.0" height="2.2" fill="#111" stroke="#111" stroke-width="1.3"/>
<path d="M342.5,281.7 V281.3 M340.5,281.3 H344.5" stroke="#777" stroke-width="0.8" fill="none"/><rect x="339.0" y="281.7" width="7.0" height="1.1" fill="#fff" stroke="#111" stroke-width="1.3"/>
<path d="M354.7,177.1 V175.5 M352.7,175.5 H356.7" stroke="#777" stroke-width="0.8" fill="none"/><rect x="350.7" y="177.1" width="8.0" height="105.7" fill="#8a8a8a" stroke="#111" stroke-width="1.3"/>
<path d="M365.6,282.3 V281.9 M363.6,281.9 H367.6" stroke="#777" stroke-width="0.8" fill="none"/><rect x="362.1" y="282.3" width="7.0" height="0.5" fill="url(#hatch)" stroke="#111" stroke-width="1.3"/>
<path d="M385.2,204.8 V195.0 M383.2,195.0 H387.2" stroke="#777" stroke-width="0.8" fill="none"/><rect x="381.3" y="204.8" width="7.7" height="78.0" fill="#111" stroke="#111" stroke-width="1.3"/>
<path d="M396.8,275.8 V270.9 M394.8,270.9 H398.8" stroke="#777" stroke-width="0.8" fill="none"/><rect x="392.9" y="275.8" width="7.8" height="7.0" fill="#fff" stroke="#111" stroke-width="1.3"/>
<path d="M408.5,267.1 V255.7 M406.5,255.7 H410.5" stroke="#777" stroke-width="0.8" fill="none"/><rect x="404.6" y="267.1" width="7.8" height="15.7" fill="#8a8a8a" stroke="#111" stroke-width="1.3"/>
<path d="M420.0,275.8 V269.8 M418.0,269.8 H422.0" stroke="#777" stroke-width="0.8" fill="none"/><rect x="416.1" y="275.8" width="7.7" height="7.0" fill="url(#hatch)" stroke="#111" stroke-width="1.3"/>
<path d="M439.7,231.9 V210.2 M437.7,210.2 H441.7" stroke="#777" stroke-width="0.8" fill="none"/><rect x="435.8" y="231.9" width="7.7" height="50.9" fill="#111" stroke="#111" stroke-width="1.3"/>
<path d="M451.1,267.6 V253.5 M449.1,253.5 H453.1" stroke="#777" stroke-width="0.8" fill="none"/><rect x="447.2" y="267.6" width="7.7" height="15.2" fill="#fff" stroke="#111" stroke-width="1.3"/>
<path d="M462.8,250.3 V222.1 M460.8,222.1 H464.8" stroke="#777" stroke-width="0.8" fill="none"/><rect x="458.9" y="250.3" width="7.7" height="32.5" fill="#8a8a8a" stroke="#111" stroke-width="1.3"/>
<path d="M474.5,273.4 V263.3 M472.5,263.3 H476.5" stroke="#777" stroke-width="0.8" fill="none"/><rect x="470.6" y="273.4" width="7.7" height="9.4" fill="url(#hatch)" stroke="#111" stroke-width="1.3"/>
<path class="br" d="M386.5,187.3 V182.9 H436.8 V187.3"/>
<text x="413.7" y="187.6" font-size="15.5" text-anchor="middle" font-weight="bold">*</text>
<text x="347.7" y="296" font-size="10.6" text-anchor="middle" >No Tx</text>
<text x="402.9" y="296" font-size="10.6" text-anchor="middle" >RTE</text>
<text x="456.7" y="296" font-size="10.6" text-anchor="middle" >MN</text>
<rect x="442.3" y="162.1" width="10.2" height="5.4" fill="#111" stroke="#111" stroke-width="1.1"/>
<text x="457.6" y="167.4" font-size="7.2">Eosinophils</text>
<rect x="442.3" y="172.3" width="10.2" height="5.4" fill="#fff" stroke="#111" stroke-width="1.1"/>
<text x="457.6" y="177.6" font-size="7.2">Lymphocytes</text>
<rect x="442.3" y="182.5" width="10.2" height="5.4" fill="#8a8a8a" stroke="#111" stroke-width="1.1"/>
<text x="457.6" y="187.8" font-size="7.2">Macrophages</text>
<rect x="442.3" y="192.7" width="10.2" height="5.4" fill="url(#hatch)" stroke="#111" stroke-width="1.1"/>
<text x="457.6" y="198.0" font-size="7.2">Neutrophils</text>
</g>
</svg></body></html>
